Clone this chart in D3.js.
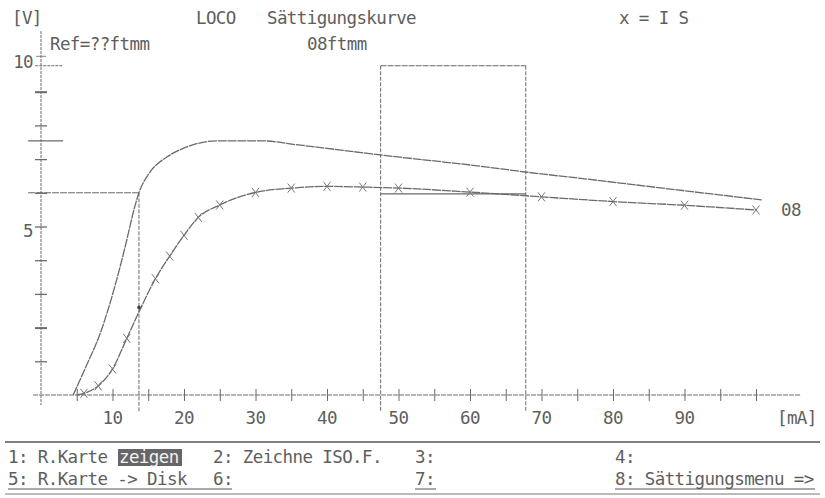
<!DOCTYPE html>
<html>
<head>
<meta charset="utf-8">
<script src="https://cdn.jsdelivr.net/npm/d3@7"></script>
<style>
  html, body { margin: 0; padding: 0; background: #fff; }
  svg { display: block; }
  text { font-family: "DejaVu Sans Mono", "Liberation Mono", monospace; font-size: 17.5px; letter-spacing: -0.6px; fill: #5e5e5e; }
</style>
</head>
<body>
<svg id="chart" width="825" height="498"></svg>
<script>
// Saturation curve: output voltage [V] over supply current [mA]
const upperMA = [4.5, 6.2, 8.3, 10.3, 12, 13, 13.7, 15.2, 17.6, 20.4, 24.6, 31, 36, 48, 61, 68, 75, 81, 90, 100.8];
const upperV  = [0, 0.8, 1.84, 3.2, 4.6, 5.5, 6.0, 6.6, 7.06, 7.36, 7.54, 7.54, 7.42, 7.11, 6.8, 6.61, 6.44, 6.29, 6.06, 5.79];

const lowerMA = [5, 6, 8, 10, 12, 14, 16, 18, 20, 22, 25, 30, 35, 40, 45, 50, 60, 70, 80, 90, 100];
const lowerV  = [0, 0.05, 0.27, 0.77, 1.68, 2.6, 3.45, 4.12, 4.74, 5.27, 5.64, 6.01, 6.14, 6.19, 6.17, 6.14, 6.02, 5.88, 5.74, 5.63, 5.49];
const markedMA = [6, 8, 10, 12, 16, 18, 20, 22, 25, 30, 35, 40, 45, 50, 60, 70, 80, 90, 100];

// working point, peak level and evaluation window
const refMA = 13.7, refV = 6.0;
const peakV = 7.54;
const windowMA = [47.5, 67.8];
const windowV = [5.97, 9.77];

const xTicks = [5, 10, 15, 20, 25, 30, 35, 40, 45, 50, 55, 60, 65, 70, 75, 80, 85, 90, 95, 100];
const xLabels = [10, 20, 30, 40, 50, 60, 70, 80, 90];
const yTicks = [1, 2, 3, 4, 5, 6, 7, 8, 9];
const yLabels = [5, 10];

const svg = d3.select("#chart");
const ink = "#6a6a6a";

const x = d3.scaleLinear().domain([0, 100]).range([41, 756]);
const y = d3.scaleLinear().domain([0, 10]).range([395, 58]);

const g = svg.append("g");

// axes lines
g.append("line").attr("x1", x(0)).attr("x2", x(0)).attr("y1", y(10.8)).attr("y2", y(-0.3))
  .attr("stroke", ink).attr("stroke-width", 1).attr("stroke-dasharray", "3,1");
g.append("line").attr("x1", x(-1.1)).attr("x2", x(106.2)).attr("y1", y(0)).attr("y2", y(0))
  .attr("stroke", ink).attr("stroke-width", 1.1).attr("stroke-dasharray", "5,1");

// x ticks crossing the axis
const xAxis = d3.axisBottom(x).tickValues(xTicks).tickSize(0).tickFormat("");
const xa = g.append("g").attr("transform", `translate(0,${y(0)})`).call(xAxis);
xa.select(".domain").remove();
xa.selectAll(".tick line").attr("y1", -6).attr("y2", 6).attr("stroke", ink).attr("stroke-width", 1);

g.selectAll(".xlab").data(xLabels).join("text")
  .attr("class", "xlab").attr("x", d => x(d)).attr("y", 424).attr("text-anchor", "middle").text(d => d);
g.append("text").attr("x", 777).attr("y", 424).text("[mA]");

// y ticks crossing the axis
const yAxis = d3.axisLeft(y).tickValues(yTicks).tickSize(0).tickFormat("");
const ya = g.append("g").attr("transform", `translate(${x(0)},0)`).call(yAxis);
ya.select(".domain").remove();
ya.selectAll(".tick line").attr("x1", -6).attr("x2", 6).attr("stroke", ink)
  .attr("stroke-width", d => (d === 2 || d === 9) ? 2 : 1.3);

g.selectAll(".ylab").data(yLabels).join("text")
  .attr("class", "ylab").attr("x", 33).attr("y", d => y(d) + 10).attr("text-anchor", "end").text(d => d);

// small mark at 10 V and dashed level of window top
g.append("line").attr("x1", x(0) - 5).attr("x2", x(0) + 5).attr("y1", y(10.05)).attr("y2", y(10.05))
  .attr("stroke", ink).attr("stroke-width", 0.8);
g.append("line").attr("x1", x(-0.8)).attr("x2", x(3)).attr("y1", y(windowV[1])).attr("y2", y(windowV[1]))
  .attr("stroke", ink).attr("stroke-width", 1).attr("stroke-dasharray", "3,1");

// peak level mark
g.append("line").attr("x1", x(-1.8)).attr("x2", x(3.1)).attr("y1", y(peakV)).attr("y2", y(peakV))
  .attr("stroke", ink).attr("stroke-width", 1.1);

// working point guide lines
g.append("line").attr("x1", x(-1.8)).attr("x2", x(refMA)).attr("y1", y(refV)).attr("y2", y(refV))
  .attr("stroke", ink).attr("stroke-width", 1.1).attr("stroke-dasharray", "7,1");
g.append("line").attr("x1", x(refMA)).attr("x2", x(refMA)).attr("y1", y(refV)).attr("y2", y(-0.5))
  .attr("stroke", ink).attr("stroke-width", 1).attr("stroke-dasharray", "4,1.5");

// evaluation window
g.append("line").attr("x1", x(windowMA[0])).attr("x2", x(windowMA[1])).attr("y1", y(windowV[1])).attr("y2", y(windowV[1]))
  .attr("stroke", ink).attr("stroke-width", 1.2).attr("stroke-dasharray", "6,1");
g.append("line").attr("x1", x(windowMA[0])).attr("x2", x(windowMA[1])).attr("y1", y(windowV[0])).attr("y2", y(windowV[0]))
  .attr("stroke", ink).attr("stroke-width", 1.2);
windowMA.forEach(m => {
  g.append("line").attr("x1", x(m)).attr("x2", x(m)).attr("y1", y(windowV[1])).attr("y2", y(-0.5))
    .attr("stroke", ink).attr("stroke-width", 1).attr("stroke-dasharray", "4,1.5");
});

// curves
const line = d3.line().x(d => x(d[0])).y(d => y(d[1])).curve(d3.curveMonotoneX);
const upper = upperMA.map((m, i) => [m, upperV[i]]);
const lower = lowerMA.map((m, i) => [m, lowerV[i]]);

g.append("path").attr("d", line(upper)).attr("fill", "none").attr("stroke", ink)
  .attr("stroke-width", 1.3).attr("stroke-dasharray", "9,0.8");
g.append("path").attr("d", line(lower)).attr("fill", "none").attr("stroke", ink)
  .attr("stroke-width", 1.3).attr("stroke-dasharray", "9,0.8");

// x markers on measured curve
const lowerAt = m => lowerV[lowerMA.indexOf(m)];
const mk = g.selectAll(".mk").data(markedMA).join("g").attr("class", "mk")
  .attr("transform", d => `translate(${x(d)},${y(lowerAt(d))})`);
mk.append("line").attr("x1", -3.5).attr("y1", -4.5).attr("x2", 3.5).attr("y2", 4.5).attr("stroke", "#777").attr("stroke-width", 1);
mk.append("line").attr("x1", -3.5).attr("y1", 4.5).attr("x2", 3.5).attr("y2", -4.5).attr("stroke", "#777").attr("stroke-width", 1);

// working point on the measured curve
g.append("circle").attr("cx", x(refMA)).attr("cy", y(lowerAt(14))).attr("r", 1.8).attr("fill", "#444");

// curve label
g.append("text").attr("x", 781).attr("y", y(lowerV[lowerV.length - 1]) + 6).text("08");

// header
svg.append("text").attr("x", 12).attr("y", 24).text("[V]");
svg.append("text").attr("x", 196).attr("y", 24).text("LOCO");
svg.append("text").attr("x", 267).attr("y", 24).text("Sättigungskurve");
svg.append("text").attr("x", 619).attr("y", 24).text("x = I S");
svg.append("text").attr("x", 50).attr("y", 50).text("Ref=??ftmm");
svg.append("text").attr("x", 307).attr("y", 50).text("08ftmm");

// menu
const menu = svg.append("g");
menu.append("line").attr("x1", 5).attr("x2", 820).attr("y1", 442).attr("y2", 442).attr("stroke", "#555").attr("stroke-width", 1.4);
menu.append("rect").attr("x", 118).attr("y", 449).attr("width", 64).attr("height", 17).attr("fill", "#666");
menu.append("text").attr("x", 8).attr("y", 463).text("1: R.Karte");
menu.append("text").attr("x", 119).attr("y", 463).style("fill", "#f2f2f2").text("zeigen");
menu.append("text").attr("x", 213).attr("y", 463).text("2: Zeichne ISO.F.");
menu.append("text").attr("x", 415).attr("y", 463).text("3:");
menu.append("text").attr("x", 615).attr("y", 463).text("4:");
menu.append("text").attr("x", 8).attr("y", 485).text("5: R.Karte -> Disk");
menu.append("text").attr("x", 213).attr("y", 485).text("6:");
menu.append("text").attr("x", 415).attr("y", 485).text("7:");
menu.append("text").attr("x", 615).attr("y", 485).text("8: Sättigungsmenu =>");
// underlined second row
[[8, 232], [415, 436], [615, 815]].forEach(([a, b]) => {
  menu.append("line").attr("x1", a).attr("x2", b).attr("y1", 489).attr("y2", 489).attr("stroke", "#555").attr("stroke-width", 1);
});
menu.append("line").attr("x1", 5).attr("x2", 820).attr("y1", 494).attr("y2", 494).attr("stroke", "#777").attr("stroke-width", 1);
</script>
</body>
</html>
